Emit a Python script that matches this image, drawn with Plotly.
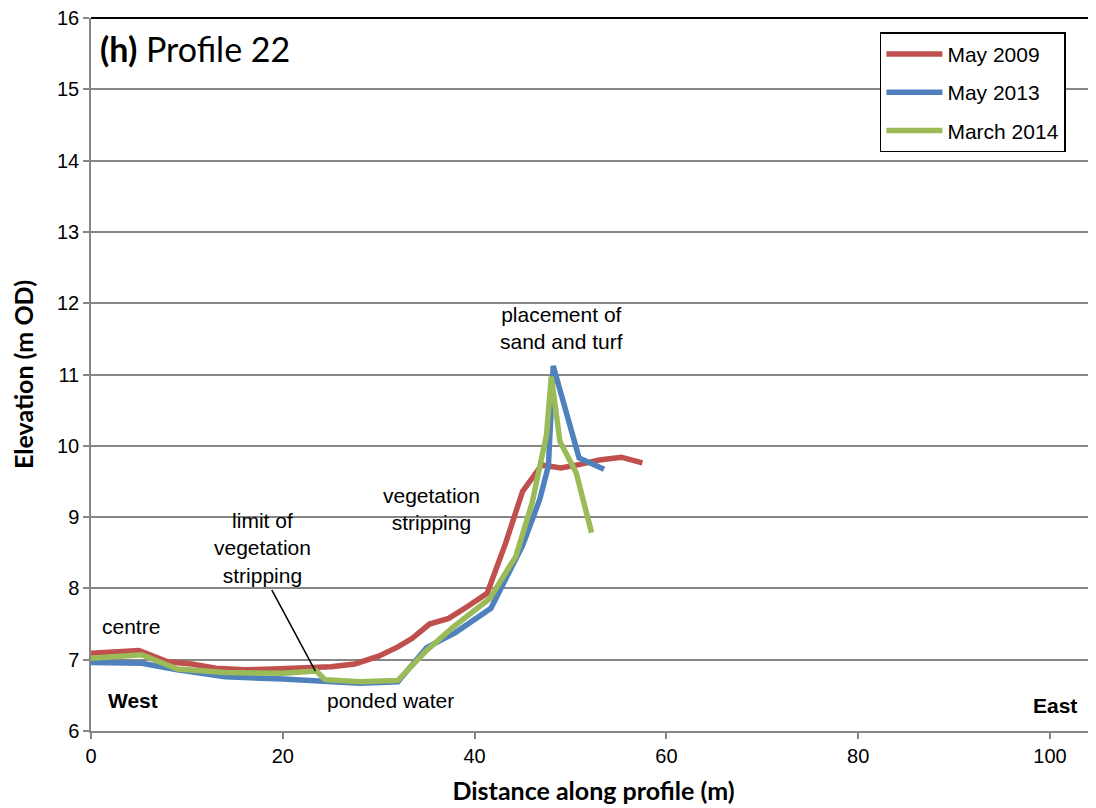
import plotly.graph_objects as go

# Data
x_2009 = [0, 2.5, 5, 8, 10.5, 13, 16, 19, 22, 25, 27.5, 30, 32, 33.5, 35.3, 37.3, 39.3, 41.3, 43.2, 45, 47, 49, 51, 53, 55.3, 57.5]
y_2009 = [7.09, 7.11, 7.13, 6.97, 6.94, 6.88, 6.86, 6.87, 6.88, 6.90, 6.94, 7.05, 7.18, 7.30, 7.50, 7.58, 7.75, 7.93, 8.62, 9.36, 9.73, 9.69, 9.74, 9.80, 9.84, 9.76]

x_2013 = [0, 5.3, 9, 14, 20, 24, 28, 32, 35, 38, 41.7, 45, 46.8, 47.7, 48.2, 50.9, 53.5]
y_2013 = [6.96, 6.95, 6.86, 6.76, 6.73, 6.70, 6.67, 6.69, 7.17, 7.38, 7.72, 8.60, 9.25, 9.72, 11.12, 9.83, 9.67]

x_2014 = [0, 5.3, 9, 14, 20, 23.5, 24.4, 28, 32, 35, 37.7, 41.6, 44.3, 46, 47.5, 48, 48.9, 50.6, 52.2]
y_2014 = [7.02, 7.07, 6.87, 6.82, 6.81, 6.84, 6.72, 6.69, 6.71, 7.13, 7.45, 7.86, 8.45, 9.20, 10.15, 10.97, 10.06, 9.62, 8.78]

series_names = ["May 2009", "May 2013", "March 2014"]
series_colors = ["#C0504D", "#4F81BD", "#9BBB59"]

x_ticks = [0, 20, 40, 60, 80, 100]
y_ticks = [6, 7, 8, 9, 10, 11, 12, 13, 14, 15, 16]

fig = go.Figure()
for i, (xs, ys) in enumerate([(x_2009, y_2009), (x_2013, y_2013), (x_2014, y_2014)]):
    fig.add_trace(go.Scatter(
        x=xs, y=ys, mode="lines", name=series_names[i],
        legendgroup=f"g{i}",
        line=dict(color=series_colors[i], width=5.5),
    ))

ann_font = dict(family="Liberation Sans, Arial", size=21, color="black")

annotations = [
    dict(x=0.007, y=0.957, xref="paper", yref="paper", xanchor="left", yanchor="middle",
         text="<b>(h)</b> Profile 22", showarrow=False,
         font=dict(family="Lato, Open Sans", size=34, color="black")),
    dict(x=0.9, y=7.46, text="centre", showarrow=False, xanchor="left", yanchor="middle", font=ann_font),
    dict(x=1.6, y=6.43, text="<b>West</b>", showarrow=False, xanchor="left", yanchor="middle", font=ann_font),
    dict(x=103.0, y=6.36, text="<b>East</b>", showarrow=False, xanchor="right", yanchor="middle", font=ann_font),
    dict(x=31.2, y=6.43, text="ponded water", showarrow=False, xanchor="center", yanchor="middle", font=ann_font),
    dict(x=17.9, y=8.57, text="limit of<br>vegetation<br>stripping", showarrow=False,
         xanchor="center", yanchor="middle", font=ann_font),
    dict(x=35.5, y=9.11, text="vegetation<br>stripping", showarrow=False,
         xanchor="center", yanchor="middle", font=ann_font),
    dict(x=49.1, y=11.65, text="placement of<br>sand and turf", showarrow=False,
         xanchor="center", yanchor="middle", font=ann_font),
]

shapes = [
    dict(type="line", x0=18.85, y0=7.98, x1=23.4, y1=6.84, xref="x", yref="y",
         line=dict(color="black", width=1.5)),
    dict(type="line", x0=0, x1=1, y0=1, y1=1, xref="paper", yref="paper",
         line=dict(color="black", width=2)),
]

fig.update_layout(
    width=1088, height=800,
    margin=dict(l=83, r=0, t=10, b=77),
    paper_bgcolor="white", plot_bgcolor="white",
    showlegend=True,
    legend=dict(
        x=0.785, y=0.980, xanchor="left", yanchor="top",
        bgcolor="white", bordercolor="black", borderwidth=1.5,
        font=dict(family="Liberation Sans, Arial", size=21, color="black"),
        tracegroupgap=8, itemwidth=56,
    ),
    annotations=annotations,
    shapes=shapes,
    xaxis=dict(
        range=[0, 104.8], tickvals=x_ticks, ticktext=[str(v) for v in x_ticks],
        showgrid=False, zeroline=False,
        showline=True, linecolor="#868686", linewidth=1.5,
        ticks="outside", ticklen=6, tickcolor="#868686", tickwidth=1.5,
        tickfont=dict(family="Liberation Sans, Arial", size=20, color="black"),
        ticklabeloverflow="allow",
        title=dict(text="<b>Distance along profile (m)</b>",
                   font=dict(family="Lato, Open Sans", size=25, color="black"), standoff=17),
    ),
    yaxis=dict(
        range=[6, 16], tickvals=y_ticks, ticktext=[str(v) for v in y_ticks],
        showgrid=True, gridcolor="#868686", gridwidth=1.5, zeroline=False,
        showline=True, linecolor="#868686", linewidth=1.5,
        ticks="outside", ticklen=6, tickcolor="#868686", tickwidth=1.5,
        tickfont=dict(family="Liberation Sans, Arial", size=20, color="black"),
        ticklabeloverflow="allow",
        title=dict(text="<b>Elevation (m OD)</b>",
                   font=dict(family="Lato, Open Sans", size=25, color="black"), standoff=21),
    ),
)

fig.write_html("out.html")
